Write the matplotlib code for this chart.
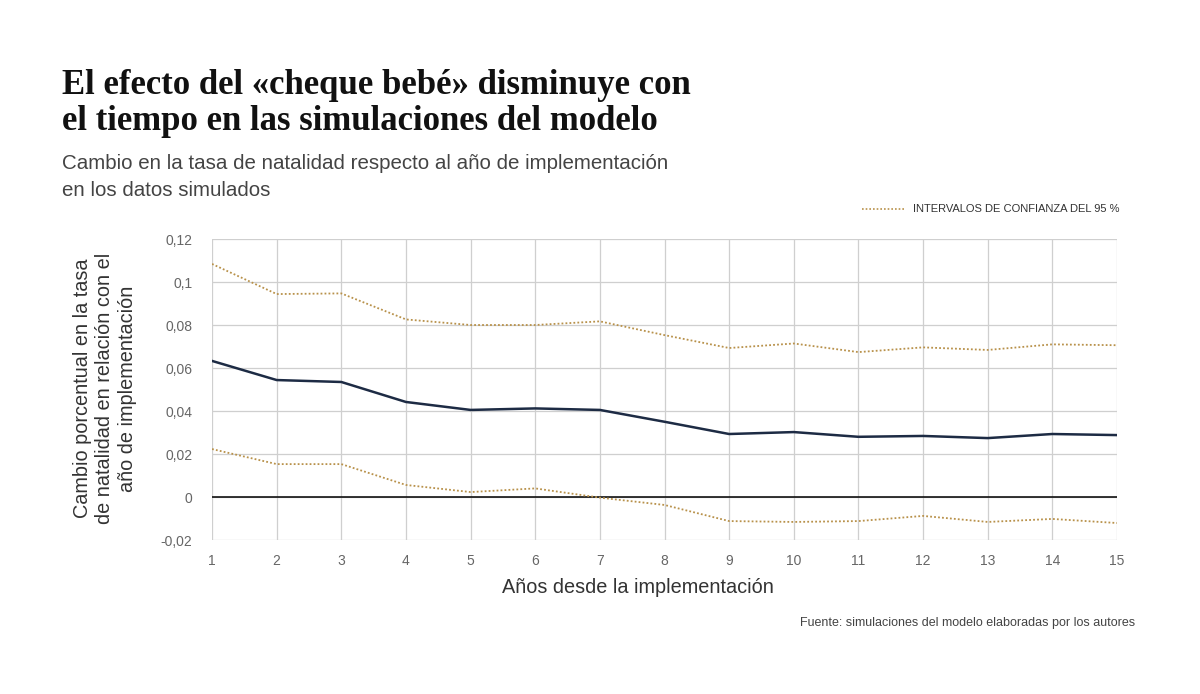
import numpy as np
import matplotlib.pyplot as plt
from matplotlib.ticker import FuncFormatter

# datos
anios = np.arange(1, 16)
efecto = [0.0633, 0.0544, 0.0535, 0.0442, 0.0405, 0.0412, 0.0405, 0.0350,
          0.0293, 0.0302, 0.0280, 0.0284, 0.0274, 0.0293, 0.0288]
ic_sup = [0.1084, 0.0944, 0.0947, 0.0826, 0.0800, 0.0800, 0.0817, 0.0753,
          0.0693, 0.0714, 0.0674, 0.0696, 0.0684, 0.0710, 0.0706]
ic_inf = [0.0223, 0.0153, 0.0153, 0.0056, 0.0023, 0.0040, -0.0003, -0.0037,
          -0.0112, -0.0116, -0.0112, -0.0088, -0.0116, -0.0102, -0.0121]

plt.rcParams['font.family'] = ['Liberation Sans', 'DejaVu Sans']

fig = plt.figure(figsize=(12, 6.94), dpi=100)
ax = fig.add_axes([0.1767, 0.2219, 0.7541, 0.4337])

ax.axhline(0, color='black', lw=1.1, zorder=2)
ax.plot(anios, ic_sup, color='#b8914a', lw=1.3, ls=(0, (1, 1.2)), zorder=3)
ax.plot(anios, ic_inf, color='#b8914a', lw=1.3, ls=(0, (1, 1.2)), zorder=3)
ax.plot(anios, efecto, color='#1d2b44', lw=1.8, zorder=4)

ax.set_xlim(1, 15)
ax.set_ylim(-0.02, 0.12)
ax.set_xticks(anios)
ax.set_yticks(np.arange(-0.02, 0.121, 0.02))
ax.yaxis.set_major_formatter(FuncFormatter(
    lambda v, p: '0' if abs(v) < 1e-9 else ('%g' % round(v, 2)).replace('.', ',')))
ax.grid(True, color='#cfcfcf', lw=0.9)
ax.set_axisbelow(True)
for s in ax.spines.values():
    s.set_visible(False)
ax.tick_params(length=0, labelsize=10, labelcolor='#666666')
ax.tick_params(axis='x', pad=10)
ax.tick_params(axis='y', pad=14)

fig.text(0.532, 0.153, 'Años desde la implementación', fontsize=14.3, color='#333333',
         ha='center', va='center')
fig.text(0.0875, 0.44, 'Cambio porcentual en la tasa\nde natalidad en relación con el\naño de implementación',
         rotation=90, ha='center', va='center', fontsize=14.3, color='#333333',
         linespacing=1.25)

fig.text(0.052, 0.9, 'El efecto del «cheque bebé» disminuye con\nel tiempo en las simulaciones del modelo',
         fontsize=25, fontweight='bold', family='Liberation Serif', va='top',
         linespacing=1.1, color='#111111')
fig.text(0.052, 0.712, 'Cambio en la tasa de natalidad respecto al año de implementación\nen los datos simulados',
         fontsize=14.8, color='#444444', va='bottom', linespacing=1.5)

fig.lines.append(plt.Line2D([0.718, 0.754], [0.699, 0.699], transform=fig.transFigure,
                            color='#b8914a', lw=1.2, ls=(0, (1, 1.2))))
fig.text(0.761, 0.699, 'INTERVALOS DE CONFIANZA DEL 95 %', fontsize=8, color='#333333', va='center')

fig.text(0.946, 0.102, 'Fuente: simulaciones del modelo elaboradas por los autores',
         fontsize=9, color='#444444', ha='right', va='center')

fig.savefig('out.png', dpi=100, facecolor='white')
